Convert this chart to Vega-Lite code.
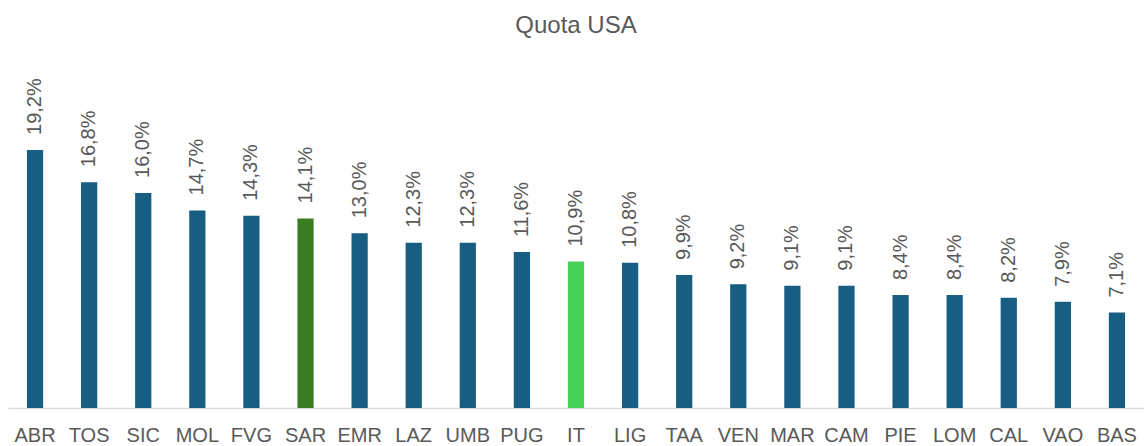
{
  "$schema": "https://vega.github.io/schema/vega-lite/v6.json",
  "autosize": "none",
  "width": 1136,
  "height": 336,
  "padding": {"left": 8, "top": 72, "right": 0, "bottom": 38},
  "background": "white",
  "config": {
    "view": {"stroke": null},
    "font": "Liberation Sans",
    "locale": {"number": {"decimal": ",", "thousands": ".", "grouping": [3], "currency": ["€", ""]}}
  },
  "title": {
    "text": "Quota USA",
    "fontSize": 24,
    "font": "Liberation Sans",
    "fontWeight": "normal",
    "color": "#595959",
    "anchor": "middle",
    "frame": "group",
    "baseline": "alphabetic",
    "offset": 15
  },
  "data": {
    "values": [
      {"reg": "ABR", "quota": 0.192, "type": "regione"},
      {"reg": "TOS", "quota": 0.168, "type": "regione"},
      {"reg": "SIC", "quota": 0.160, "type": "regione"},
      {"reg": "MOL", "quota": 0.147, "type": "regione"},
      {"reg": "FVG", "quota": 0.143, "type": "regione"},
      {"reg": "SAR", "quota": 0.141, "type": "SAR"},
      {"reg": "EMR", "quota": 0.130, "type": "regione"},
      {"reg": "LAZ", "quota": 0.123, "type": "regione"},
      {"reg": "UMB", "quota": 0.123, "type": "regione"},
      {"reg": "PUG", "quota": 0.116, "type": "regione"},
      {"reg": "IT", "quota": 0.109, "type": "IT"},
      {"reg": "LIG", "quota": 0.108, "type": "regione"},
      {"reg": "TAA", "quota": 0.099, "type": "regione"},
      {"reg": "VEN", "quota": 0.092, "type": "regione"},
      {"reg": "MAR", "quota": 0.091, "type": "regione"},
      {"reg": "CAM", "quota": 0.091, "type": "regione"},
      {"reg": "PIE", "quota": 0.084, "type": "regione"},
      {"reg": "LOM", "quota": 0.084, "type": "regione"},
      {"reg": "CAL", "quota": 0.082, "type": "regione"},
      {"reg": "VAO", "quota": 0.079, "type": "regione"},
      {"reg": "BAS", "quota": 0.071, "type": "regione"}
    ]
  },
  "encoding": {
    "x": {
      "field": "reg",
      "type": "nominal",
      "sort": null,
      "scale": {"paddingInner": 0.7, "paddingOuter": 0.35},
      "axis": {
        "title": null,
        "labelAngle": 0,
        "labelFontSize": 20,
        "labelColor": "#595959",
        "labelPadding": 17,
        "ticks": false,
        "domainColor": "#d9d9d9",
        "domainWidth": 1.5
      }
    },
    "y": {
      "field": "quota",
      "type": "quantitative",
      "scale": {"domain": [0, 0.25]},
      "axis": null
    }
  },
  "layer": [
    {
      "mark": {"type": "bar"},
      "encoding": {
        "color": {
          "field": "type",
          "type": "nominal",
          "scale": {"domain": ["regione", "SAR", "IT"], "range": ["#175e82", "#3b7d23", "#47d35a"]},
          "legend": null
        }
      }
    },
    {
      "mark": {"type": "text", "angle": 270, "align": "left", "baseline": "middle", "dx": 15, "fontSize": 20, "color": "#595959"},
      "encoding": {
        "text": {"field": "quota", "type": "quantitative", "format": ".1%"}
      }
    }
  ]
}
